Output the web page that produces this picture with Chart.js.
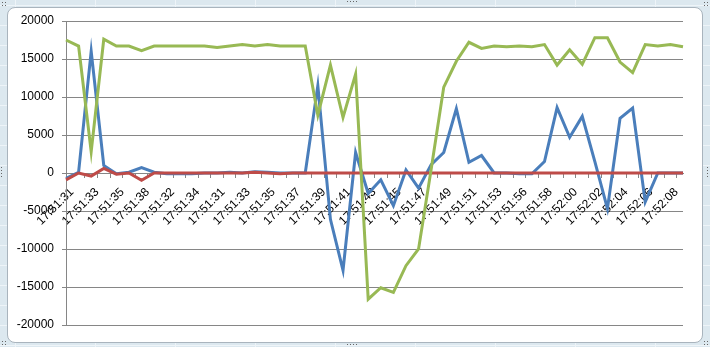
<!DOCTYPE html>
<html>
<head>
<meta charset="utf-8">
<script src="https://cdn.jsdelivr.net/npm/chart.js"></script>
<style>
  body { margin: 0; width: 710px; height: 347px; overflow: hidden; position: relative;
    background-color: #dce8ef;
    background-image:
      linear-gradient(to right, #eef4f8 1px, transparent 1px),
      linear-gradient(to bottom, #eef4f8 1px, transparent 1px);
    background-size: 80px 20px;
    background-position: 15px 5px;
  }
  #frame { position: absolute; left: 7px; top: 7px; width: 694px; height: 334px;
    background: #fff; border: 1px solid #a9b4bd; border-radius: 8px; }
  .grip { position: absolute; width: 6px; height: 6px;
    background-image: radial-gradient(#666 0.9px, transparent 1px); background-size: 3px 3px; }
  canvas { position: absolute; left: 0; top: 0; }
</style>
</head>
<body>
<div id="frame"></div>
<div class="grip" style="left:1px;top:1px"></div>
<div class="grip" style="left:703px;top:1px"></div>
<div class="grip" style="left:1px;top:340px"></div>
<div class="grip" style="left:703px;top:340px"></div>
<div class="grip" style="left:346px;top:0px;width:12px;height:4px"></div>
<div class="grip" style="left:346px;top:343px;width:12px;height:4px"></div>
<div class="grip" style="left:0px;top:166px;width:4px;height:12px"></div>
<div class="grip" style="left:706px;top:166px;width:4px;height:12px"></div>
<canvas id="chart" width="710" height="347"></canvas>
<script>
// category labels (only every second one is shown on the axis)
const timeLabels = [
  '17:51:31', '17:51:32', '17:51:33', '17:51:34', '17:51:35', '17:51:37', '17:51:38', '17:51:39',
  '17:51:32', '17:51:33', '17:51:34', '17:51:35', '17:51:31', '17:51:32', '17:51:33', '17:51:34',
  '17:51:35', '17:51:36', '17:51:37', '17:51:38', '17:51:39', '17:51:40', '17:51:41', '17:51:42',
  '17:51:43', '17:51:44', '17:51:45', '17:51:46', '17:51:47', '17:51:48', '17:51:49', '17:51:50',
  '17:51:51', '17:51:52', '17:51:53', '17:51:55', '17:51:56', '17:51:57', '17:51:58', '17:51:59',
  '17:52:00', '17:52:01', '17:52:02', '17:52:03', '17:52:04', '17:52:05', '17:52:06', '17:52:07',
  '17:52:08', '17:52:09'
];

// series values
const blueValues = [
  -700, 100, 16000, 1000, -100, 100, 700, 100, -100, -100,
  -100, 0, 0, 100, 0, 150, 100, 0, 0, 0,
  11500, -6100, -12800, 2700, -2700, -900, -4300, 400, -2000, 1100,
  2700, 8450, 1400, 2300, 0, 0, -100, -100, 1500, 8600,
  4700, 7450, 1500, -4700, 7200, 8550, -3800, 0, 0, 0
];
const redValues = [
  -900, 0, -400, 600, -150, 0, -970, 0, 0, 0,
  0, 0, 0, 0, 0, 100, 0, -100, 0, 0,
  0, 0, 0, 0, 0, 0, 0, 0, 0, 0,
  0, 0, 0, 0, 0, 0, 0, 0, 0, 0,
  0, 0, 0, 0, 0, 0, 0, 0, 0, 0
];
const greenValues = [
  17500, 16700, 2800, 17600, 16700, 16700, 16100, 16700, 16700, 16700,
  16700, 16700, 16500, 16700, 16900, 16700, 16900, 16700, 16700, 16700,
  7600, 14200, 7300, 13000, -16600, -15100, -15700, -12200, -10000, 500,
  11300, 14700, 17200, 16400, 16700, 16600, 16700, 16600, 16900, 14200,
  16200, 14300, 17800, 17800, 14600, 13200, 16900, 16700, 16900, 16600
];

const yMin = -20000;
const yMax = 20000;
const yStep = 5000;

const axisGray = '#868686';
const fontSpec = { family: 'Liberation Sans', size: 12 };

function lineSet(values, color, order) {
  return {
    data: values,
    borderColor: color,
    backgroundColor: color,
    borderWidth: 3,
    pointRadius: 0,
    tension: 0,
    fill: false,
    order: order, // green drawn on top, then red, then blue
  };
}

new Chart(document.getElementById('chart'), {
  type: 'line',
  data: {
    labels: timeLabels,
    datasets: [
      lineSet(blueValues, '#4a7ebb', 2),
      lineSet(redValues, '#be4b48', 1),
      lineSet(greenValues, '#98b954', 0),
    ],
  },
  options: {
    responsive: false,
    animation: false,
    layout: { padding: { left: 10, right: 27, top: 21, bottom: 22 } },
    plugins: {
      legend: { display: false },
      tooltip: { enabled: false },
    },
    scales: {
      x: {
        position: { y: 0 }, // category axis crosses at zero like in Excel
        grid: {
          offset: true,
          drawOnChartArea: false,
          drawTicks: true,
          tickLength: 4,
          color: axisGray,
        },
        border: { color: axisGray },
        ticks: {
          autoSkip: false,
          maxRotation: 45,
          minRotation: 45,
          padding: 8,
          labelOffset: 6,
          color: '#000',
          font: fontSpec,
          callback: function (value, index) {
            return index % 2 === 0 ? this.getLabelForValue(value) : '';
          },
        },
      },
      y: {
        min: yMin,
        max: yMax,
        afterFit: scale => { scale.width = 56; },
        grid: { color: axisGray, tickLength: 4 },
        border: { color: axisGray },
        ticks: {
          stepSize: yStep,
          padding: 8,
          color: '#000',
          font: fontSpec,
          callback: value => String(value),
        },
      },
    },
  },
});
</script>
</body>
</html>
